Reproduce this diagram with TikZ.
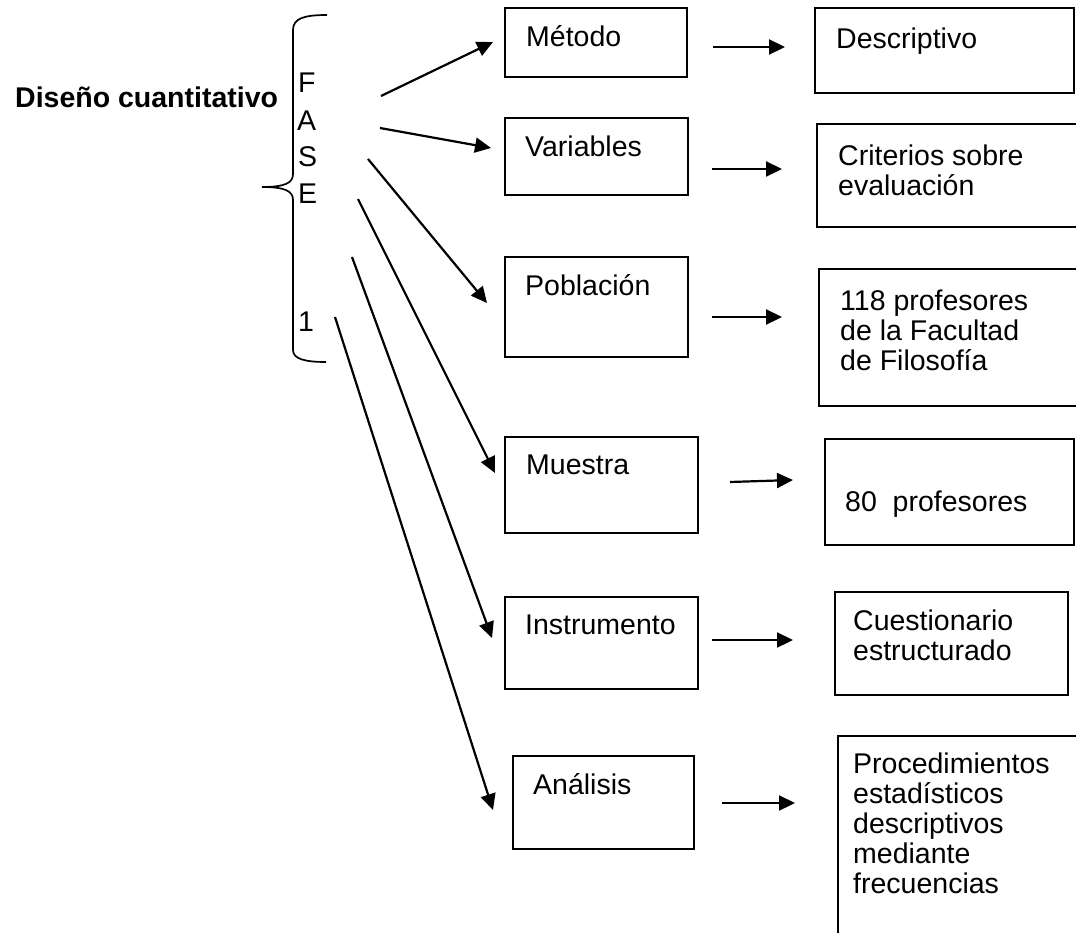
\documentclass[tikz,border=0pt]{standalone}
\usepackage{fontspec}
\setmainfont{Liberation Sans}
\usetikzlibrary{arrows.meta}
\begin{document}
\begin{tikzpicture}[x=1pt,y=-1pt,
  box/.style={draw,line width=2pt,inner sep=0pt,anchor=north west},
  lbl/.style={anchor=base west,inner sep=0pt,font=\fontsize{28.5}{30}\selectfont},
  arr/.style={line width=2.2pt,-{Triangle[length=16pt,width=15pt]}},
  bracestyle/.style={line width=1.7pt}]
\useasboundingbox (0,0) rectangle (1076,932);
\renewcommand\arraystretch{1}
% title
\node[lbl,font=\bfseries\fontsize{28.5}{30}\selectfont] (title) at (15,107) {Diseño cuantitativo};
% brace
\draw[bracestyle] (327,15) .. controls (305,15) and (293,18) .. (293,30) -- (293,174)
  .. controls (293,183) and (285,187) .. (262,187)
  .. controls (285,187) and (293,191) .. (293,200) -- (293,350)
  .. controls (293,359) and (305,362) .. (326,362);
\node[lbl] (lF) at (298,92) {F};
\node[lbl] (lA) at (297,130) {A};
\node[lbl] (lS) at (298,166) {S};
\node[lbl] (lE) at (298,203) {E};
\node[lbl] (l1) at (298,331) {1};
% left boxes
\node[box,minimum width=182pt,minimum height=69pt] (metodo) at (504,7) {};
\node[box,minimum width=183pt,minimum height=77pt] (variables) at (504,117) {};
\node[box,minimum width=183pt,minimum height=100pt] (poblacion) at (504,256) {};
\node[box,minimum width=193pt,minimum height=96pt] (muestra) at (504,436) {};
\node[box,minimum width=193pt,minimum height=92pt] (instrumento) at (504,596) {};
\node[box,minimum width=181pt,minimum height=93pt] (analisis) at (512,755) {};
\node[lbl] (tmetodo) at (526,46) {Método};
\node[lbl] (tvariables) at (525,156) {Variables};
\node[lbl] (tpoblacion) at (525,295) {Población};
\node[lbl] (tmuestra) at (526,474) {Muestra};
\node[lbl] (tinstrumento) at (525,634) {Instrumento};
\node[lbl] (tanalisis) at (533,794) {Análisis};
% right boxes
\node[box,minimum width=259pt,minimum height=85pt] (descriptivo) at (814,7) {};
\node[box,minimum width=270pt,minimum height=103pt] (criterios) at (816,123) {};
\node[box,minimum width=270pt,minimum height=137pt] (cientodieciocho) at (818,268) {};
\node[box,minimum width=249pt,minimum height=106pt] (ochenta) at (824,438) {};
\node[box,minimum width=233pt,minimum height=103pt] (cuestionario) at (834,591) {};
\node[box,minimum width=260pt,minimum height=220pt] (procedimientos) at (837,735) {};
\node[lbl] (tdescriptivo) at (836,48) {Descriptivo};
\node[lbl] (tcriterios) at (838,165) {\begin{tabular}[t]{@{}l@{}}Criterios sobre\\evaluación\end{tabular}};
\node[lbl] (tciento) at (840,310) {\begin{tabular}[t]{@{}l@{}}118 profesores\\de la Facultad\\de Filosofía\end{tabular}};
\node[lbl] (tochenta) at (845,511) {80\ \ profesores};
\node[lbl] (tcuestionario) at (853,630) {\begin{tabular}[t]{@{}l@{}}Cuestionario\\estructurado\end{tabular}};
\node[lbl] (tprocedimientos) at (853,773) {\begin{tabular}[t]{@{}l@{}}Procedimientos\\estadísticos\\descriptivos\\mediante\\frecuencias\end{tabular}};
% arrow end points
\coordinate (d1s) at (381,96);  \coordinate (d1e) at (493,42);
\coordinate (d2s) at (380,128); \coordinate (d2e) at (491,148);
\coordinate (d3s) at (368,159); \coordinate (d3e) at (487,303);
\coordinate (d4s) at (358,199); \coordinate (d4e) at (495,473);
\coordinate (d5s) at (352,257); \coordinate (d5e) at (492,638);
\coordinate (d6s) at (335,317); \coordinate (d6e) at (493,810);
\coordinate (h1s) at (713,47);  \coordinate (h1e) at (785,47);
\coordinate (h2s) at (712,169); \coordinate (h2e) at (782,169);
\coordinate (h3s) at (712,317); \coordinate (h3e) at (782,317);
\coordinate (h4s) at (730,482); \coordinate (h4e) at (793,480);
\coordinate (h5s) at (712,640); \coordinate (h5e) at (793,640);
\coordinate (h6s) at (722,803); \coordinate (h6e) at (795,803);
\foreach \i in {1,...,6}{
  \draw[arr] (d\i s) -- (d\i e);
  \draw[arr] (h\i s) -- (h\i e);
}
\end{tikzpicture}
\end{document}
